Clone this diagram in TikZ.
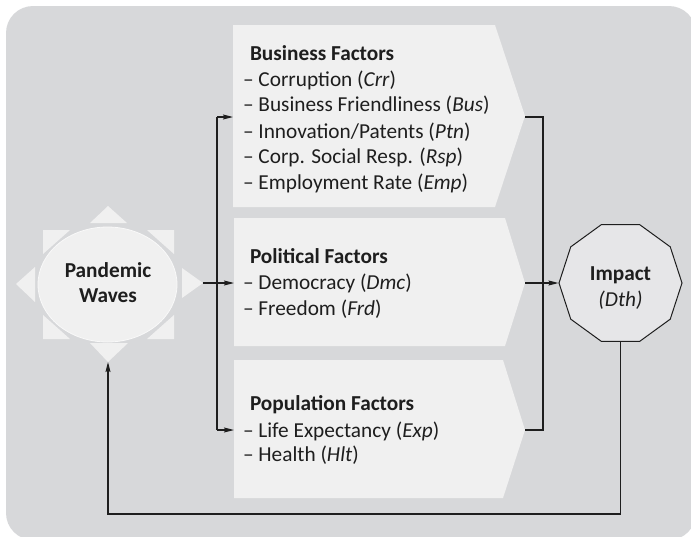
\documentclass[tikz,border=0pt]{standalone}
\usepackage{fontspec}
\setmainfont{Carlito}
\usetikzlibrary{shapes.geometric,arrows.meta}
\definecolor{bg}{HTML}{D7D8DA}
\definecolor{boxfill}{HTML}{F0F0F0}
\definecolor{decfill}{HTML}{E6E6E8}
\definecolor{ink}{HTML}{1E1E1E}
\newcommand{\fsz}{\fontsize{21.3}{25}\selectfont}
\tikzset{
  chev/.style={fill=boxfill, draw=none},
  ray/.style={fill=boxfill, draw=none},
  txt/.style={anchor=base west, inner sep=0pt, outer sep=0pt, font=\fsz, text=ink},
  btxt/.style={txt, font=\fsz\bfseries},
  ctxt/.style={txt, anchor=base},
  conn/.style={draw=ink, line width=1.2pt},
  arr/.style={conn, -{Stealth[length=10pt,width=5pt,inset=1.5pt]}},
}
\begin{document}
\begin{tikzpicture}[x=1pt,y=-1pt]
\useasboundingbox (0,0) rectangle (691,536);
% background
\fill[bg, rounded corners=27pt] (6,6) rectangle (696,540);

% sun shape
\node[ellipse, minimum width=139pt, minimum height=115pt, inner sep=0pt,
      fill=boxfill, draw=white!85!bg, line width=0.8pt] (sun) at (107.5,284.5) {};
\fill[ray] (90,223) -- (127,223) -- (108,206) -- cycle;
\fill[ray] (90,343) -- (128,343) -- (108,362) -- cycle;
\fill[ray] (35,267) -- (35,302) -- (16,284) -- cycle;
\fill[ray] (182,268) -- (182,298) -- (203,283) -- cycle;
\fill[ray] (43,230) -- (70,230) -- (43,254) -- cycle;
\fill[ray] (174,230) -- (147,230) -- (174,254) -- cycle;
\fill[ray] (43,339) -- (70,339) -- (43,315) -- cycle;
\fill[ray] (174,339) -- (147,339) -- (174,315) -- cycle;
\coordinate (sunE) at (203,283);
\coordinate (sunS) at (108,362);
\node[ctxt, font=\fsz\bfseries] (pw1) at (108,277) {Pandemic};
\node[ctxt, font=\fsz\bfseries] (pw2) at (108,302) {Waves};

% chevron boxes
\fill[chev] (233,25) -- (495,25) -- (525,116) -- (495,207) -- (233,207) -- cycle;
\fill[chev] (234,218) -- (505,218) -- (525,283) -- (505,346) -- (234,346) -- cycle;
\fill[chev] (234,360) -- (503,360) -- (525,430) -- (503,498) -- (234,498) -- cycle;
\coordinate (b1W) at (233,117);
\coordinate (b2W) at (234,283);
\coordinate (b3W) at (234,430);
\coordinate (b1E) at (525,117);
\coordinate (b2E) at (525,283);
\coordinate (b3E) at (525,430);

% box 1 text
\node[btxt] (b1t) at (250,60) {Business Factors};
\node[txt] (b1a) at (243,86) {– Corruption (\textit{Crr})};
\node[txt] (b1b) at (243,111) {– Business Friendliness (\textit{Bus})};
\node[txt] (b1c) at (243,138) {– Innovation/Patents (\textit{Ptn})};
\node[txt] (b1d) at (243,163) {– Corp. Social Resp. (\textit{Rsp})};
\node[txt] (b1e) at (243,189) {– Employment Rate (\textit{Emp})};
% box 2 text
\node[btxt] (b2t) at (250,263) {Political Factors};
\node[txt] (b2a) at (243,289) {– Democracy (\textit{Dmc})};
\node[txt] (b2b) at (243,315) {– Freedom (\textit{Frd})};
% box 3 text
\node[btxt] (b3t) at (250,410) {Population Factors};
\node[txt] (b3a) at (243,437) {– Life Expectancy (\textit{Exp})};
\node[txt] (b3b) at (243,461) {– Health (\textit{Hlt})};

% impact decagon
\node[regular polygon, regular polygon sides=10, minimum size=123pt, inner sep=0pt,
      fill=decfill, draw=ink, line width=1pt] (imp) at (620.5,283) {};
\node[ctxt, font=\fsz\bfseries] (imp1) at (620.5,280) {Impact};
\node[ctxt, font=\fsz\itshape] (imp2) at (620.5,306) {(Dth)};

% left distribution
\coordinate (lsplit) at (217,283);
\coordinate (ltop) at (217,117);
\coordinate (lbot) at (217,430);
\draw[conn] (sunE) -- (lsplit);
\draw[conn] (ltop) -- (lbot);
\draw[arr] (ltop) -- (b1W);
\draw[arr] (lsplit) -- (b2W);
\draw[arr] (lbot) -- (b3W);

% right merge
\coordinate (rmerge) at (543,283);
\draw[conn] (b1E) -| (rmerge) |- (b3E);
\draw[conn] (b2E) -- (rmerge);
\draw[arr] (rmerge) -- (imp.west);

% feedback
\coordinate (fb) at (108,514);
\draw[arr] (imp.south) |- (fb) -- (sunS);
\end{tikzpicture}
\end{document}
